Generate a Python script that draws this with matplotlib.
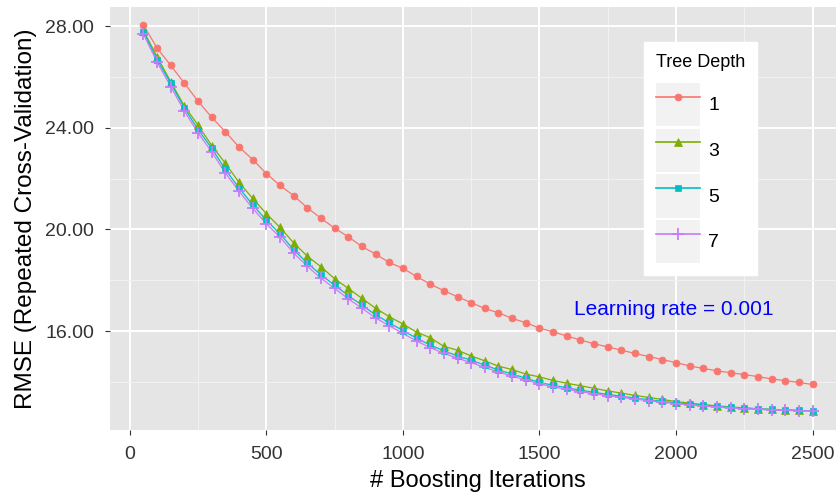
import matplotlib
matplotlib.use("Agg")
import matplotlib.pyplot as plt
from matplotlib.patches import Rectangle
from matplotlib.lines import Line2D
from matplotlib.legend_handler import HandlerTuple

plt.rcParams['font.family'] = ['Liberation Sans', 'DejaVu Sans']

# boosting iterations, 50..2500 in steps of 50
iterations = [50, 100, 150, 200, 250, 300, 350, 400, 450, 500,
              550, 600, 650, 700, 750, 800, 850, 900, 950, 1000,
              1050, 1100, 1150, 1200, 1250, 1300, 1350, 1400, 1450, 1500,
              1550, 1600, 1650, 1700, 1750, 1800, 1850, 1900, 1950, 2000,
              2050, 2100, 2150, 2200, 2250, 2300, 2350, 2400, 2450, 2500]

rmse_depth1 = [28.04, 27.13, 26.45, 25.75, 25.04, 24.41, 23.84, 23.24, 22.75, 22.20,
               21.73, 21.33, 20.85, 20.44, 20.05, 19.71, 19.33, 19.03, 18.70, 18.47,
               18.15, 17.85, 17.59, 17.35, 17.12, 16.89, 16.72, 16.50, 16.33, 16.12,
               15.97, 15.81, 15.65, 15.50, 15.38, 15.25, 15.12, 15.00, 14.88, 14.76,
               14.63, 14.53, 14.44, 14.36, 14.29, 14.21, 14.12, 14.05, 13.98, 13.90]

rmse_depth3 = [27.82, 26.79, 25.81, 24.85, 24.10, 23.30, 22.60, 21.85, 21.22, 20.62,
               20.08, 19.47, 18.95, 18.53, 18.06, 17.68, 17.29, 16.90, 16.57, 16.28,
               15.96, 15.74, 15.40, 15.25, 15.02, 14.83, 14.62, 14.49, 14.31, 14.20,
               14.06, 13.95, 13.85, 13.75, 13.65, 13.56, 13.47, 13.39, 13.31, 13.23,
               13.17, 13.11, 13.06, 13.02, 12.98, 12.95, 12.92, 12.90, 12.88, 12.86]

rmse_depth5 = [27.78, 26.68, 25.75, 24.77, 23.93, 23.19, 22.36, 21.63, 20.97, 20.36,
               19.83, 19.20, 18.68, 18.21, 17.81, 17.40, 17.02, 16.64, 16.33, 16.02,
               15.72, 15.45, 15.23, 15.02, 14.86, 14.66, 14.47, 14.31, 14.15, 13.98,
               13.87, 13.77, 13.68, 13.59, 13.51, 13.44, 13.37, 13.30, 13.24, 13.18,
               13.13, 13.08, 13.04, 13.00, 12.97, 12.94, 12.92, 12.90, 12.88, 12.86]

rmse_depth7 = [27.68, 26.58, 25.62, 24.65, 23.80, 23.05, 22.22, 21.50, 20.83, 20.22,
               19.70, 19.07, 18.55, 18.08, 17.68, 17.27, 16.90, 16.52, 16.21, 15.91,
               15.61, 15.35, 15.13, 14.93, 14.76, 14.57, 14.39, 14.23, 14.08, 13.92,
               13.81, 13.71, 13.62, 13.54, 13.46, 13.39, 13.33, 13.26, 13.20, 13.15,
               13.10, 13.05, 13.01, 12.98, 12.95, 12.92, 12.90, 12.88, 12.87, 12.86]

depth_labels = ["1", "3", "5", "7"]
x_ticks = [0, 500, 1000, 1500, 2000, 2500]
y_ticks = [16, 20, 24, 28]

series = [rmse_depth1, rmse_depth3, rmse_depth5, rmse_depth7]
colors = ["#F8766D", "#7CAE00", "#00BFC4", "#C77CFF"]
markers = ["o", "^", "s", "+"]
msizes = [5, 6, 5, 9]

W, H = 837, 497
fig = plt.figure(figsize=(W / 100, H / 100), dpi=100)
fig.patch.set_facecolor("white")
# panel in pixels: left 110, right 846 (cropped), top 7, bottom 430
ax = fig.add_axes([110 / W, (H - 430) / H, (846 - 110) / W, (430 - 7) / H])
ax.set_facecolor("#E5E5E5")

ax.set_xlim(-72.5, 2622.5)
ax.set_ylim(12.11, 28.75)

ax.set_xticks(x_ticks)
ax.set_xticks([250, 750, 1250, 1750, 2250], minor=True)
ax.set_yticks(y_ticks)
ax.set_yticks([14, 18, 22, 26], minor=True)
ax.set_yticklabels(["%.2f" % v for v in y_ticks])

ax.grid(which="major", color="white", linewidth=1.4)
ax.grid(which="minor", color="#F2F2F2", linewidth=0.7)
ax.set_axisbelow(True)
for sp in ax.spines.values():
    sp.set_visible(False)

ax.tick_params(which="major", length=3.6, width=0.8, color="#333333",
               labelsize=14, labelcolor="#333333")
ax.tick_params(axis="y", pad=8)
ax.tick_params(axis="x", pad=8)
ax.tick_params(which="minor", length=0)

# lines first, then points on top
for ys, c in zip(series, colors):
    ax.plot(iterations, ys, color=c, linewidth=0.9, zorder=2)
for ys, c, m, ms in zip(series, colors, markers, msizes):
    ax.plot(iterations, ys, linestyle="none", marker=m, color=c,
            markersize=ms, markeredgewidth=1.3 if m == "+" else 0.5, zorder=3)

ax.text(1990, 16.85, "Learning rate = 0.001", color="#0000FF", fontsize=15,
        ha="center", va="center")

ax.set_xlabel("# Boosting Iterations", fontsize=17, labelpad=5)
ax.set_ylabel("RMSE (Repeated Cross-Validation)", fontsize=17.5, labelpad=6)

# legend with grey key boxes
handles = []
for c, m, ms in zip(colors, markers, msizes):
    box = Rectangle((0, 0), 1, 1, facecolor="#F2F2F2", edgecolor="none")
    ln = Line2D([], [], color=c, linewidth=1.2, marker=m, markersize=ms,
                markeredgewidth=1.3 if m == "+" else 0.5)
    handles.append((box, ln))
leg = fig.legend(handles, depth_labels, title="Tree Depth",
                 handler_map={tuple: HandlerTuple(ndivide=1)},
                 loc="upper left", bbox_to_anchor=(644 / W, 1 - 42 / H),
                 fontsize=14, title_fontsize=13, frameon=True, fancybox=False,
                 framealpha=1, edgecolor="white", facecolor="white",
                 handlelength=2.3, handleheight=3.05, labelspacing=0.12,
                 handletextpad=0.4, borderpad=0.6, borderaxespad=0)
leg._legend_box.align = "left"
leg._legend_box.sep = 9

fig.savefig("out.png", dpi=100)
